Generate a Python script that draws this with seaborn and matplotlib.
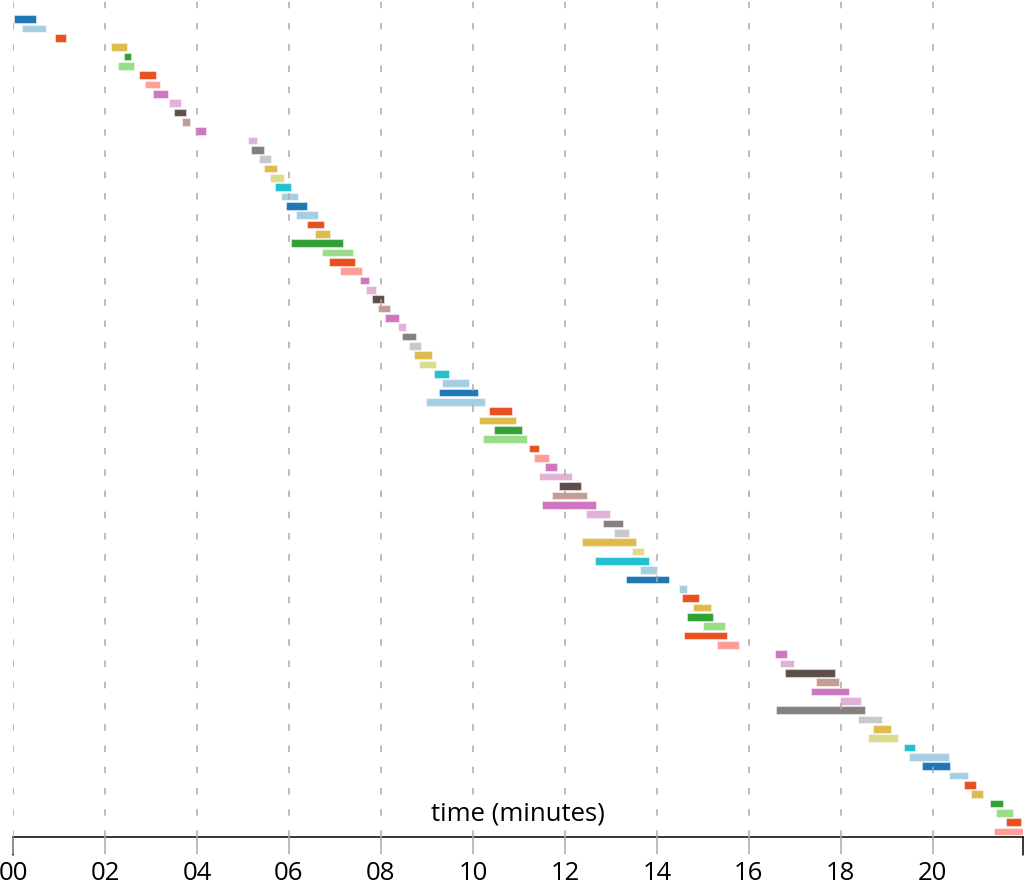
import numpy as np
import pandas as pd
import matplotlib.pyplot as plt
import seaborn as sns

# task start / end times (minutes), one row per task, top to bottom
start = [0.02, 0.20, 0.91, 2.13, 2.41, 2.29, 2.73, 2.87, 3.04, 3.39,
         3.49, 3.67, 3.96, 5.10, 5.17, 5.34, 5.45, 5.58, 5.70, 5.83,
         5.93, 6.15, 6.39, 6.57, 6.04, 6.72, 6.87, 7.10, 7.54, 7.67,
         7.80, 7.93, 8.09, 8.37, 8.45, 8.62, 8.72, 8.83, 9.15, 9.33,
         9.26, 8.98, 10.35, 10.13, 10.46, 10.22, 11.22, 11.33, 11.57, 11.43,
         11.88, 11.71, 11.50, 12.46, 12.83, 13.07, 12.37, 13.46, 12.66, 13.63,
         13.33, 14.49, 14.54, 14.78, 14.65, 15.01, 14.58, 15.31, 16.57, 16.67,
         16.78, 17.47, 17.34, 17.99, 16.59, 18.38, 18.69, 18.59, 19.37, 19.48,
         19.76, 20.35, 20.67, 20.83, 21.24, 21.38, 21.59, 21.33]
end = [0.50, 0.72, 1.15, 2.48, 2.57, 2.62, 3.12, 3.20, 3.36, 3.65,
       3.76, 3.85, 4.19, 5.30, 5.46, 5.60, 5.75, 5.89, 6.04, 6.20,
       6.39, 6.64, 6.76, 6.89, 7.17, 7.39, 7.44, 7.59, 7.75, 7.89,
       8.07, 8.20, 8.39, 8.54, 8.76, 8.88, 9.11, 9.20, 9.48, 9.91,
       10.11, 10.27, 10.84, 10.93, 11.07, 11.17, 11.44, 11.65, 11.83, 12.16,
       12.35, 12.48, 12.68, 12.99, 13.27, 13.39, 13.55, 13.71, 13.83, 14.01,
       14.26, 14.65, 14.91, 15.17, 15.22, 15.48, 15.53, 15.78, 16.83, 16.98,
       17.87, 17.96, 18.18, 18.43, 18.53, 18.90, 19.09, 19.25, 19.61, 20.35,
       20.38, 20.77, 20.93, 21.10, 21.52, 21.74, 21.91, 21.96]
ticks = list(range(0, 21, 2))
tick_labels = [f"{t:02d}" for t in ticks]

df = pd.DataFrame({"task": np.arange(len(start)), "start": start, "end": end})
df["duration"] = df["end"] - df["start"]

palette = sns.color_palette([
    "#1f77b4", "#a6cee3", "#e8511f", "#debb4b", "#31a136",
    "#98de8a", "#e8511f", "#ff9d99", "#ce76c0", "#e1b2d6",
    "#5e4e4b", "#c39c94", "#ce76c0", "#e1b2d6", "#857f7f",
    "#c8c8c8", "#debb4b", "#dcdc8e", "#22c0cf", "#a6cee3",
])
colors = [palette[i % len(palette)] for i in df["task"]]

sns.set_theme(style="white")
plt.rcParams["font.family"] = ["Open Sans", "DejaVu Sans"]
plt.rcParams["lines.scale_dashes"] = False

fig = plt.figure(figsize=(10.24, 8.81), dpi=100)
ax = fig.add_axes([13 / 1024, 1 - 837 / 881, 1010 / 1024, 835 / 881])

ax.barh(df["task"], df["duration"], left=df["start"], height=0.82,
        color=colors, edgecolor=(1, 1, 1, 0.45), linewidth=0.8)

ax.set_xlim(0, df["end"].max())
ax.set_ylim(87.58, -1.82)
ax.set_yticks([])
ax.set_xticks(ticks)
ax.set_xticklabels(tick_labels)

# dashed grid drawn over the bars
ax.set_axisbelow(False)
ax.xaxis.grid(True, color="#aaaaaa", linewidth=1.1, linestyle=(0, (4.7, 10.6)))

for side in ["top", "left", "right"]:
    ax.spines[side].set_visible(False)
ax.spines["bottom"].set_color("black")
ax.spines["bottom"].set_linewidth(1.1)

ax.tick_params(axis="x", length=12.5, width=1.1, color="#aaaaaa", pad=5,
               labelsize=18.5, labelcolor="black", bottom=True)

# black end ticks of the axis line
for xe in ax.get_xlim():
    ax.plot([xe, xe], [0, -0.021], transform=ax.get_xaxis_transform(),
            color="black", linewidth=1.1, clip_on=False)

ax.set_xlabel("time (minutes)", fontsize=18.5, color="black")
ax.xaxis.set_label_coords(0.5, 0.043)

fig.savefig("out.png", dpi=100)
